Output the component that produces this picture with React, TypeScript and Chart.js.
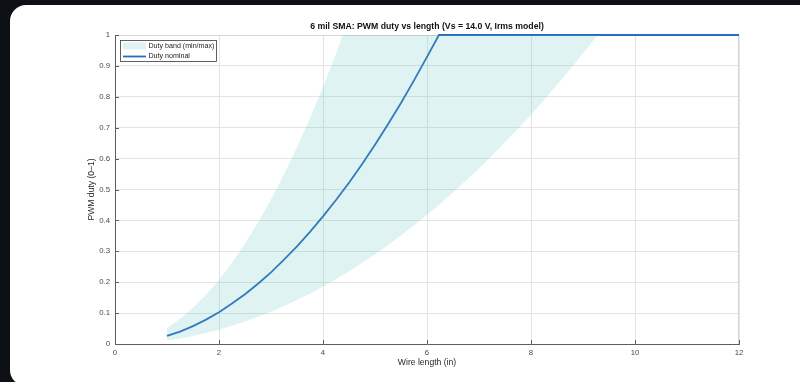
import React, { useEffect, useRef } from "react";
import { Chart, registerables } from "chart.js";

Chart.register(...registerables);

const TITLE = "6 mil SMA: PWM duty vs length (Vs = 14.0 V, Irms model)";
const X_LABEL = "Wire length (in)";
const Y_LABEL = "PWM duty (0–1)";
const BAND_LABEL = "Duty band (min/max)";
const NOMINAL_LABEL = "Duty nominal";

const lengths = [
  1, 1.25, 1.5, 1.75, 2, 2.25, 2.5, 2.75, 3, 3.25, 3.5, 3.75, 4, 4.25, 4.38, 4.5, 4.75,
  5, 5.25, 5.5, 5.75, 6, 6.23, 6.5, 6.75, 7, 7.25, 7.5, 7.75, 8, 8.25, 8.5, 8.75, 9,
  9.25, 9.29, 10, 11, 12,
];

const dutyNominal = [
  0.026, 0.04, 0.058, 0.079, 0.103, 0.131, 0.161, 0.195, 0.232, 0.273, 0.316, 0.363,
  0.413, 0.466, 0.495, 0.522, 0.582, 0.645, 0.711, 0.78, 0.853, 0.929, 1, 1, 1, 1, 1,
  1, 1, 1, 1, 1, 1, 1, 1, 1, 1, 1, 1,
];

const dutyMax = [
  0.052, 0.081, 0.117, 0.159, 0.208, 0.263, 0.325, 0.393, 0.468, 0.549, 0.637, 0.731,
  0.832, 0.939, 1, 1, 1, 1, 1, 1, 1, 1, 1, 1, 1, 1, 1, 1, 1, 1, 1, 1, 1, 1, 1, 1, 1, 1, 1,
];

const dutyMin = [
  0.012, 0.018, 0.026, 0.036, 0.046, 0.059, 0.073, 0.088, 0.104, 0.123, 0.142, 0.163,
  0.186, 0.21, 0.223, 0.235, 0.262, 0.29, 0.32, 0.351, 0.384, 0.418, 0.45, 0.49, 0.529,
  0.568, 0.61, 0.653, 0.697, 0.742, 0.79, 0.838, 0.888, 0.94, 0.993, 1, 1, 1, 1,
];

const xTicks = [0, 2, 4, 6, 8, 10, 12];
const yTicks = [0, 0.1, 0.2, 0.3, 0.4, 0.5, 0.6, 0.7, 0.8, 0.9, 1];

const FONT = "'Liberation Sans', Arial, Helvetica, sans-serif";
const LINE_BLUE = "#2b6dbd";
const BAND_FILL = "rgba(77,191,191,0.18)";
const AXIS_COLOR = "#5e5e5e";
const GRID_COLOR = "#e4e4e4";
const BOX_COLOR = "#d6d6d6";

const toPoints = (ys: number[]) => lengths.map((x, i) => ({ x, y: ys[i] }));

const decorPlugin = {
  id: "decor",
  beforeDatasetsDraw(chart: any) {
    const { ctx, chartArea } = chart;
    const { left, right, top, bottom } = chartArea;
    ctx.save();
    ctx.strokeStyle = BOX_COLOR;
    ctx.lineWidth = 1;
    ctx.beginPath();
    ctx.moveTo(left, Math.round(top) + 0.5);
    ctx.lineTo(right, Math.round(top) + 0.5);
    ctx.moveTo(Math.round(right) - 0.5, top);
    ctx.lineTo(Math.round(right) - 0.5, bottom);
    ctx.stroke();
    ctx.restore();
  },
  afterDraw(chart: any) {
    const { ctx, chartArea } = chart;
    const { left, right, top, bottom } = chartArea;
    const xs = chart.scales.x;
    const ys = chart.scales.y;
    ctx.save();
    // inward ticks
    ctx.strokeStyle = AXIS_COLOR;
    ctx.lineWidth = 1;
    ctx.beginPath();
    xTicks.forEach((v) => {
      const px = Math.round(xs.getPixelForValue(v)) + 0.5;
      ctx.moveTo(px, bottom);
      ctx.lineTo(px, bottom - 4);
    });
    yTicks.forEach((v) => {
      const py = Math.round(ys.getPixelForValue(v)) + 0.5;
      ctx.moveTo(left, py);
      ctx.lineTo(left + 4, py);
    });
    ctx.stroke();

    // title
    const cx = (left + right) / 2;
    ctx.fillStyle = "#111";
    ctx.font = `bold 8.7px ${FONT}`;
    ctx.textAlign = "center";
    ctx.textBaseline = "middle";
    ctx.fillText(TITLE, cx, 26.5);

    // axis labels
    ctx.fillStyle = "#262626";
    ctx.font = `8.6px ${FONT}`;
    ctx.fillText(X_LABEL, cx, 363);
    ctx.save();
    ctx.translate(92, (top + bottom) / 2);
    ctx.rotate(-Math.PI / 2);
    ctx.fillText(Y_LABEL, 0, 0);
    ctx.restore();

    // legend
    const lx = 120.5;
    const ly = 40.5;
    ctx.fillStyle = "#ffffff";
    ctx.fillRect(lx, ly, 96, 21);
    ctx.strokeStyle = "#3a3a3a";
    ctx.lineWidth = 0.8;
    ctx.strokeRect(lx, ly, 96, 21);
    ctx.fillStyle = BAND_FILL;
    ctx.fillRect(123, 42.5, 23, 7);
    ctx.strokeStyle = LINE_BLUE;
    ctx.lineWidth = 1.8;
    ctx.beginPath();
    ctx.moveTo(123, 56.5);
    ctx.lineTo(146, 56.5);
    ctx.stroke();
    ctx.fillStyle = "#222";
    ctx.font = `7.1px ${FONT}`;
    ctx.textAlign = "left";
    ctx.textBaseline = "middle";
    ctx.fillText(BAND_LABEL, 148.5, 46.3);
    ctx.fillText(NOMINAL_LABEL, 148.5, 56.5);
    ctx.restore();
  },
};

export default function App() {
  const canvasRef = useRef<HTMLCanvasElement | null>(null);

  useEffect(() => {
    if (!canvasRef.current) return;
    const chart = new Chart(canvasRef.current, {
      type: "line",
      data: {
        datasets: [
          {
            label: BAND_LABEL,
            data: toPoints(dutyMax),
            borderColor: "rgba(0,0,0,0)",
            borderWidth: 0,
            backgroundColor: BAND_FILL,
            pointRadius: 0,
            fill: "+1",
            tension: 0,
          },
          {
            label: "band min",
            data: toPoints(dutyMin),
            borderColor: "rgba(0,0,0,0)",
            borderWidth: 0,
            pointRadius: 0,
            fill: false,
            tension: 0,
          },
          {
            label: NOMINAL_LABEL,
            data: toPoints(dutyNominal),
            borderColor: LINE_BLUE,
            borderWidth: 1.8,
            pointRadius: 0,
            fill: false,
            tension: 0,
            clip: 3,
          },
        ],
      },
      options: {
        responsive: false,
        maintainAspectRatio: false,
        animation: false,
        layout: { padding: { top: 35, right: 61, left: 0, bottom: 0 } },
        plugins: {
          legend: { display: false },
          title: { display: false },
          tooltip: { enabled: false },
        },
        scales: {
          x: {
            type: "linear",
            min: 0,
            max: 12,
            afterFit: (s: any) => {
              s.height = 38;
            },
            afterBuildTicks: (s: any) => {
              s.ticks = xTicks.map((v) => ({ value: v }));
            },
            ticks: {
              font: { family: FONT, size: 7.8 },
              color: "#4a4a4a",
              padding: 4,
              maxRotation: 0,
            },
            grid: { color: GRID_COLOR, drawTicks: false, lineWidth: 1 },
            border: { display: true, color: AXIS_COLOR, width: 1 },
          },
          y: {
            type: "linear",
            min: 0,
            max: 1,
            afterFit: (s: any) => {
              s.width = 115;
            },
            afterBuildTicks: (s: any) => {
              s.ticks = yTicks.map((v) => ({ value: v }));
            },
            ticks: {
              font: { family: FONT, size: 7.8 },
              color: "#4a4a4a",
              padding: 5,
              callback: (v: any) => String(Number(v)),
            },
            grid: { color: GRID_COLOR, drawTicks: false, lineWidth: 1 },
            border: { display: true, color: AXIS_COLOR, width: 1 },
          },
        },
      },
      plugins: [decorPlugin],
    });
    return () => chart.destroy();
  }, []);

  return (
    <div
      style={{
        position: "fixed",
        left: 0,
        top: 0,
        width: 800,
        height: 382,
        background: "#0d1015",
        overflow: "hidden",
      }}
    >
      <div
        style={{
          position: "absolute",
          left: 10,
          top: 5,
          width: 820,
          height: 381,
          background: "#ffffff",
          borderRadius: 16,
        }}
      />
      <canvas
        ref={canvasRef}
        width={800}
        height={382}
        style={{ position: "absolute", left: 0, top: 0, width: 800, height: 382 }}
      />
    </div>
  );
}
